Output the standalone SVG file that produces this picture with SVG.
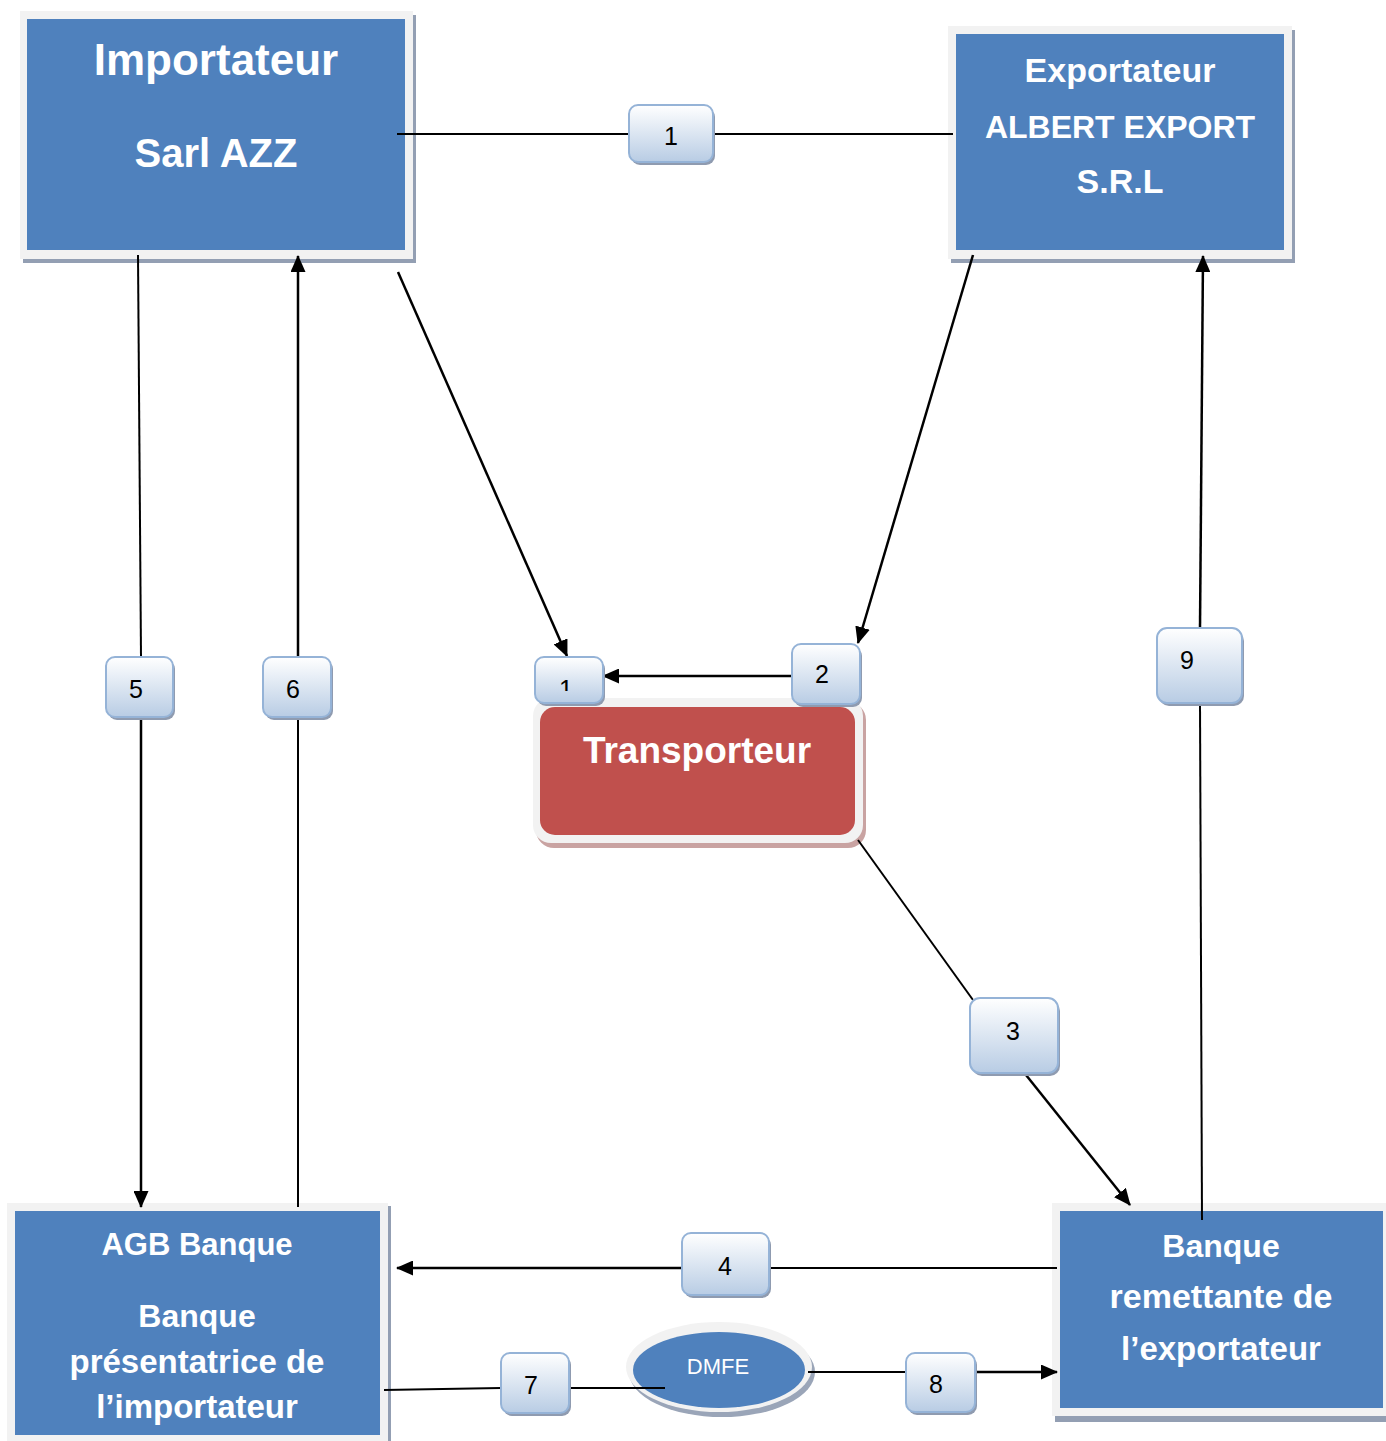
<svg xmlns="http://www.w3.org/2000/svg" width="1386" height="1441" viewBox="0 0 1386 1441">
  <defs>
    <linearGradient id="badgeFill" x1="0" y1="0" x2="0" y2="1">
      <stop offset="0" stop-color="#ffffff"/>
      <stop offset="1" stop-color="#b8cce4"/>
    </linearGradient>
    <marker id="arrow" markerUnits="userSpaceOnUse" markerWidth="17" markerHeight="15" refX="16" refY="7.5" orient="auto">
      <path d="M0,0 L17,7.5 L0,15 Z" fill="#000"/>
    </marker>
    <clipPath id="clipSmall1">
      <rect x="535" y="657" width="68" height="34"/>
    </clipPath>
  </defs>
  <style>
    .shadow { fill: #939fb3; }
    .frame { fill: #f2f2f2; }
    .blue { fill: #4f81bd; }
    .red { fill: #c0504d; }
    .title { font-family: "Liberation Sans", Arial, sans-serif; font-weight: bold; fill: #ffffff; text-anchor: middle; }
    .badge-shadow { fill: #8f9bb0; }
    .badge { fill: url(#badgeFill); stroke: #95b3d7; stroke-width: 2; }
    .num { font-family: "Liberation Sans", Arial, sans-serif; font-size: 25px; fill: #000; text-anchor: middle; }
    .thin { stroke: #000; stroke-width: 2; fill: none; }
    .arr { stroke: #000; stroke-width: 2.5; fill: none; marker-end: url(#arrow); }
  </style>

  <rect width="1386" height="1441" fill="#ffffff"/>

  <!-- importer -->
  <g id="importateur">
    <rect class="shadow" x="23" y="15" width="393" height="248"/>
    <rect class="frame" x="20" y="11" width="393" height="248"/>
    <rect class="blue" x="27" y="19" width="378" height="231"/>
    <text class="title" x="216" y="75" font-size="44">Importateur</text>
    <text class="title" x="216" y="167" font-size="40">Sarl AZZ</text>
  </g>

  <!-- exporter -->
  <g id="exportateur">
    <rect class="shadow" x="951" y="30" width="344" height="233"/>
    <rect class="frame" x="948" y="26" width="344" height="233"/>
    <rect class="blue" x="956" y="34" width="328" height="216"/>
    <text class="title" x="1120" y="82" font-size="34">Exportateur</text>
    <text class="title" x="1120" y="138" font-size="32">ALBERT EXPORT</text>
    <text class="title" x="1120" y="193" font-size="34">S.R.L</text>
  </g>

  <!-- importer's bank -->
  <g id="agb-banque">
    <rect class="shadow" x="10" y="1206" width="381" height="240"/>
    <rect class="frame" x="7" y="1203" width="381" height="240"/>
    <rect class="blue" x="15" y="1211" width="365" height="224"/>
    <text class="title" x="197" y="1255" font-size="31">AGB Banque</text>
    <text class="title" x="197" y="1327" font-size="32">Banque</text>
    <text class="title" x="197" y="1373" font-size="33">présentatrice de</text>
    <text class="title" x="197" y="1418" font-size="33">l’importateur</text>
  </g>

  <!-- exporter's bank -->
  <g id="banque-remettante">
    <rect class="shadow" x="1055" y="1207" width="340" height="215"/>
    <rect class="frame" x="1052" y="1203" width="340" height="213"/>
    <rect class="blue" x="1060" y="1211" width="323" height="197"/>
    <text class="title" x="1221" y="1257" font-size="32">Banque</text>
    <text class="title" x="1221" y="1308" font-size="34">remettante de</text>
    <text class="title" x="1221" y="1360" font-size="33">l’exportateur</text>
  </g>

  <!-- carrier -->
  <g id="transporteur">
    <rect x="536" y="702" width="330" height="146" rx="18" fill="#c9a3a2"/>
    <rect class="frame" x="533" y="698" width="330" height="145" rx="18"/>
    <rect class="red" x="540" y="707" width="315" height="128" rx="15"/>
    <text class="title" x="697" y="763" font-size="37">Transporteur</text>
  </g>

  <!-- DMFE -->
  <g id="dmfe">
    <ellipse cx="722" cy="1372" rx="93" ry="45" fill="#9aa5b8"/>
    <ellipse class="frame" cx="719" cy="1367" rx="93" ry="45"/>
    <ellipse class="blue" cx="719" cy="1370" rx="86" ry="38"/>
    <text x="718" y="1374" font-family="Liberation Sans, Arial, sans-serif" font-size="22" fill="#ffffff" text-anchor="middle">DMFE</text>
  </g>

  <!-- connectors -->
  <g id="connectors">
    <line class="thin" x1="397" y1="134" x2="629" y2="134"/>
    <line class="thin" x1="713" y1="134" x2="953" y2="134"/>
    <line class="arr" x1="398" y1="272" x2="567" y2="656"/>
    <line class="arr" x1="973" y1="255" x2="858" y2="643"/>
    <line class="arr" x1="792" y1="676" x2="603" y2="676"/>
    <line class="thin" x1="858" y1="840" x2="973" y2="1000"/>
    <line class="arr" x1="1022" y1="1070" x2="1130" y2="1205"/>
    <line class="thin" x1="1057" y1="1268" x2="769" y2="1268"/>
    <line class="arr" x1="682" y1="1268" x2="397" y2="1268"/>
    <line class="thin" x1="138" y1="255" x2="141" y2="657"/>
    <line class="arr" x1="141" y1="717" x2="141" y2="1207"/>
    <line class="thin" x1="298" y1="1207" x2="298" y2="717"/>
    <line class="arr" x1="298" y1="657" x2="298" y2="256"/>
    <line class="thin" x1="384" y1="1390" x2="501" y2="1388"/>
    <line class="thin" x1="569" y1="1388" x2="665" y2="1388"/>
    <line class="thin" x1="808" y1="1372" x2="906" y2="1372"/>
    <line class="arr" x1="975" y1="1372" x2="1057" y2="1372"/>
    <line class="thin" x1="1202" y1="1220" x2="1200" y2="703"/>
    <line class="arr" x1="1200" y1="628" x2="1203" y2="256"/>
  </g>

  <!-- step badges -->
  <g id="badge-1-top">
    <rect class="badge-shadow" x="631" y="108" width="84" height="57" rx="9"/>
    <rect class="badge" x="629" y="105" width="84" height="57" rx="9"/>
    <text class="num" x="671" y="145">1</text>
  </g>
  <g id="badge-5">
    <rect class="badge-shadow" x="108" y="660" width="67" height="60" rx="9"/>
    <rect class="badge" x="106" y="657" width="67" height="60" rx="9"/>
    <text class="num" x="136" y="698">5</text>
  </g>
  <g id="badge-6">
    <rect class="badge-shadow" x="265" y="660" width="68" height="60" rx="9"/>
    <rect class="badge" x="263" y="657" width="68" height="60" rx="9"/>
    <text class="num" x="293" y="698">6</text>
  </g>
  <g id="badge-1-small">
    <rect class="badge-shadow" x="537" y="660" width="68" height="46" rx="9"/>
    <rect class="badge" x="535" y="657" width="68" height="46" rx="9"/>
    <text class="num" x="566" y="698" clip-path="url(#clipSmall1)">1</text>
  </g>
  <g id="badge-2">
    <rect class="badge-shadow" x="794" y="647" width="68" height="60" rx="9"/>
    <rect class="badge" x="792" y="644" width="68" height="60" rx="9"/>
    <text class="num" x="822" y="683">2</text>
  </g>
  <g id="badge-9">
    <rect class="badge-shadow" x="1159" y="631" width="85" height="75" rx="10"/>
    <rect class="badge" x="1157" y="628" width="85" height="75" rx="10"/>
    <text class="num" x="1187" y="669">9</text>
  </g>
  <g id="badge-3">
    <rect class="badge-shadow" x="972" y="1001" width="88" height="75" rx="10"/>
    <rect class="badge" x="970" y="998" width="88" height="75" rx="10"/>
    <text class="num" x="1013" y="1040">3</text>
  </g>
  <g id="badge-4">
    <rect class="badge-shadow" x="684" y="1236" width="87" height="62" rx="9"/>
    <rect class="badge" x="682" y="1233" width="87" height="62" rx="9"/>
    <text class="num" x="725" y="1275">4</text>
  </g>
  <g id="badge-7">
    <rect class="badge-shadow" x="503" y="1356" width="68" height="60" rx="9"/>
    <rect class="badge" x="501" y="1353" width="68" height="60" rx="9"/>
    <text class="num" x="531" y="1394">7</text>
  </g>
  <g id="badge-8">
    <rect class="badge-shadow" x="908" y="1356" width="69" height="59" rx="9"/>
    <rect class="badge" x="906" y="1353" width="69" height="59" rx="9"/>
    <text class="num" x="936" y="1393">8</text>
  </g>
</svg>
